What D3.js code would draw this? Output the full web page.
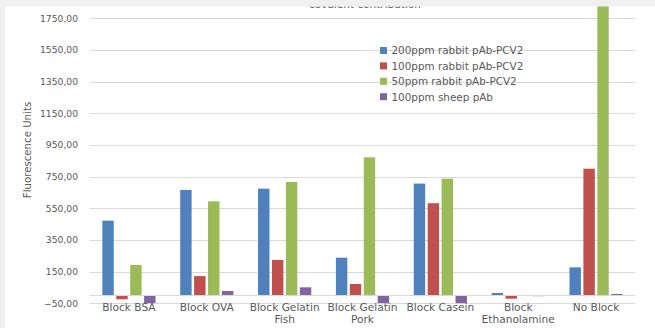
<!DOCTYPE html>
<html>
<head>
<meta charset="utf-8">
<script src="https://cdn.jsdelivr.net/npm/d3@7"></script>
<style>
  html, body { margin: 0; padding: 0; background: #ffffff; }
  svg { display: block; }
  text { font-family: "DejaVu Sans", sans-serif; fill: #595959; }
</style>
</head>
<body>
<svg id="chart" width="655" height="328"></svg>
<script>
// Blocking agents tested
const categories = [
  ["Block BSA"],
  ["Block OVA"],
  ["Block Gelatin", "Fish"],
  ["Block Gelatin", "Pork"],
  ["Block Casein"],
  ["Block", "Ethanolamine"],
  ["No Block"]
];
const seriesNames = [
  "200ppm rabbit pAb-PCV2",
  "100ppm rabbit pAb-PCV2",
  "50ppm rabbit pAb-PCV2",
  "100ppm sheep pAb"
];
const seriesColors = ["#4F81BD", "#C0504D", "#9BBB59", "#8064A2"];

// Fluorescence per blocking agent, one array per antibody
const rabbit200 = [472, 666, 674, 238, 706, 15, 177];
const rabbit100 = [-25, 122, 224, 72, 582, -21, 800];
const rabbit50 = [192, 594, 716, 872, 737, 0, 1900];
const sheep100 = [-50, 28, 51, -50, -50, -5, 9];
const seriesValues = [rabbit200, rabbit100, rabbit50, sheep100];

const yTicks = [-50, 150, 350, 550, 750, 950, 1150, 1350, 1550, 1750];
const chartTitle = "covalent contribution";
const yTitle = "Fluorescence Units";

const svg = d3.select("#chart");
const W = 655, H = 328;
const plot = { left: 90, right: 635, top: 18.3, bottom: 303.3 };

const y = d3.scaleLinear().domain([-50, 1750]).range([plot.bottom, plot.top]);
const x0 = d3.scaleBand().domain(d3.range(categories.length)).range([plot.left, plot.right]);
const bw = x0.bandwidth();
const x1 = d3.scaleBand().domain(d3.range(seriesNames.length))
  .range([bw / 2 - 26.6, bw / 2 + 26.6]).paddingInner(0.18);

// gridlines
const grid = svg.append("g");
grid.selectAll("line").data(yTicks).join("line")
  .attr("x1", plot.left).attr("x2", plot.right)
  .attr("y1", d => Math.round(y(d)) + 0.5).attr("y2", d => Math.round(y(d)) + 0.5)
  .attr("stroke", "#d9d9d9").attr("stroke-width", 1);

// y axis tick labels
const yAxis = d3.axisLeft(y).tickValues(yTicks).tickSize(0).tickPadding(12)
  .tickFormat(d => d3.format(".2f")(d).replace(".", ","));
const gy = svg.append("g").attr("transform", `translate(${plot.left},0)`).call(yAxis);
gy.select(".domain").remove();
gy.selectAll("text").attr("font-size", 9.2).attr("fill", "#595959")
  .attr("font-family", "DejaVu Sans, sans-serif");

// bars
svg.append("clipPath").attr("id", "plotClip").append("rect")
  .attr("x", plot.left).attr("y", 0).attr("width", plot.right - plot.left).attr("height", plot.bottom);

const bars = svg.append("g").attr("clip-path", "url(#plotClip)");
const rows = [];
categories.forEach((c, ci) => seriesValues.forEach((vals, si) => rows.push({ ci, si, v: vals[ci] })));
bars.selectAll("rect").data(rows).join("rect")
  .attr("x", d => x0(d.ci) + x1(d.si))
  .attr("width", x1.bandwidth())
  .attr("y", d => Math.min(y(d.v), y(0)))
  .attr("height", d => Math.abs(y(d.v) - y(0)))
  .attr("fill", d => seriesColors[d.si]);

// zero axis line
svg.append("line")
  .attr("x1", plot.left).attr("x2", plot.right)
  .attr("y1", Math.round(y(0)) + 0.5).attr("y2", Math.round(y(0)) + 0.5)
  .attr("stroke", "#d9d9d9").attr("stroke-width", 1);

// category labels
const cat = svg.append("g");
categories.forEach((lines, i) => {
  const t = cat.append("text")
    .attr("x", x0(i) + bw / 2).attr("y", 311)
    .attr("text-anchor", "middle").attr("font-size", 10.6);
  lines.forEach((ln, k) => t.append("tspan")
    .attr("x", x0(i) + bw / 2).attr("dy", k === 0 ? 0 : 12).text(ln));
});

// y axis title
svg.append("text")
  .attr("transform", "translate(31,150) rotate(-90)")
  .attr("text-anchor", "middle")
  .attr("font-family", "Liberation Sans, sans-serif")
  .attr("font-size", 10.2)
  .text(yTitle);

// legend
const legend = svg.append("g").attr("transform", "translate(380,50.5)");
seriesNames.forEach((name, i) => {
  const g = legend.append("g").attr("transform", `translate(0,${i * 15.4})`);
  g.append("rect").attr("x", 0).attr("y", -3.5).attr("width", 7).attr("height", 7)
    .attr("fill", seriesColors[i]);
  g.append("text").attr("x", 11.5).attr("y", 3.8).attr("font-size", 10.4).text(name);
});

// title and window frame
svg.append("text").attr("x", 365).attr("y", 8.3).attr("text-anchor", "middle")
  .attr("font-size", 10.5).text(chartTitle);
svg.append("rect").attr("x", 0).attr("y", 0).attr("width", W).attr("height", 6.5).attr("fill", "#f0f0f0");
svg.append("rect").attr("x", 0).attr("y", 0).attr("width", 5).attr("height", H).attr("fill", "#f0f0f0");
</script>
</body>
</html>
